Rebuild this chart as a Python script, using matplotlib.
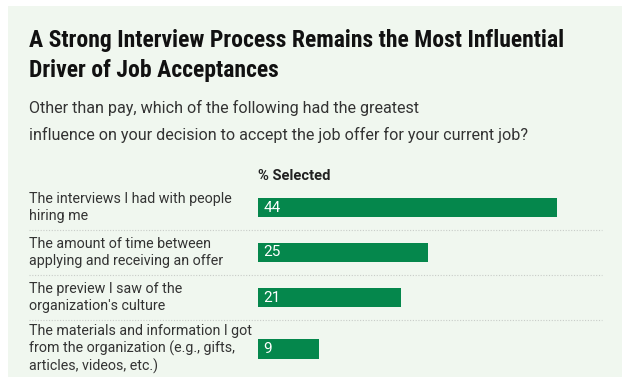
import matplotlib
matplotlib.use("Agg")
import matplotlib.pyplot as plt
from matplotlib.patches import Rectangle

categories = [
    "The interviews I had with people\nhiring me",
    "The amount of time between\napplying and receiving an offer",
    "The preview I saw of the\norganization's culture",
    "The materials and information I got\nfrom the organization (e.g., gifts,\narticles, videos, etc.)",
]
values = [44, 25, 21, 9]
title = "A Strong Interview Process Remains the Most Influential\nDriver of Job Acceptances"
subtitle_lines = ["Other than pay, which of the following had the greatest",
                  "influence on your decision to accept the job offer for your current job?"]
axis_title = "% Selected"

W, H = 632, 377
BG = "#F0F7EF"
GREEN = "#05874C"
TXT = "#333333"
FONT = ["Roboto", "DejaVu Sans"]

fig = plt.figure(figsize=(W / 100, H / 100), dpi=100)
fig.patch.set_facecolor("white")

def fx(x):
    return x / W

def fy(y):
    return 1 - y / H

# panel background
bgax = fig.add_axes([0, 0, 1, 1], zorder=-10)
bgax.axis("off")
bgax.add_patch(Rectangle((fx(8), 0), fx(622) - fx(8), fy(6), transform=bgax.transAxes,
                         facecolor=BG, edgecolor="none"))

fig.text(fx(29), fy(41), title.split("\n")[0], fontsize=17, fontweight="bold", color="#111111",
         family=["Roboto Condensed", "Liberation Sans Narrow", "Roboto", "DejaVu Sans"],
         va="center", ha="left")
fig.text(fx(29), fy(71), title.split("\n")[1], fontsize=17, fontweight="bold", color="#111111",
         family=["Roboto Condensed", "Liberation Sans Narrow", "Roboto", "DejaVu Sans"],
         va="center", ha="left")
fig.text(fx(29), fy(108), subtitle_lines[0], fontsize=11.6, color=TXT, family=FONT, va="center")
fig.text(fx(29), fy(135), subtitle_lines[1], fontsize=11.6, color=TXT, family=FONT, va="center")
fig.text(fx(258), fy(176), axis_title, fontsize=10.6, fontweight="bold", color="#222222",
         family=FONT, va="center")

# bar axes in pixel-based layout
top, bottom = 185, 377
ax = fig.add_axes([fx(258), fy(bottom), fx(602) - fx(258), fy(top) - fy(bottom)], zorder=5)
ax.set_facecolor("none")
ax.set_xlim(0, (602 - 258) / 6.8)
ax.set_ylim(bottom - top, 0)
ax.axis("off")

rows = []
y = 0
for c in categories:
    n = c.count("\n") + 1
    h = 13 + 16 * n
    rows.append((y, h))
    y += h

for i, (c, v) in enumerate(zip(categories, values)):
    y0, h = rows[i]
    yc = y0 + h / 2
    if i == len(categories) - 1:
        yc = y0 + 29
    ax.barh(yc, v, height=19.5, left=0, color=GREEN)
    ax.text(0.8, yc, str(v), color="white", fontsize=11, va="center", ha="left", family=FONT)
    fig.text(fx(29), fy(top + yc), c, fontsize=10.3, color=TXT, family=FONT,
             va="center", ha="left", linespacing=1.22)
    if i > 0:
        fig.add_artist(plt.Line2D([fx(29), fx(602)], [fy(top + y0), fy(top + y0)],
                                  transform=fig.transFigure, color="#C8CCC8", lw=0.8,
                                  linestyle=(0, (1, 1.5))))

fig.savefig("out.png", dpi=100, facecolor=fig.get_facecolor())
